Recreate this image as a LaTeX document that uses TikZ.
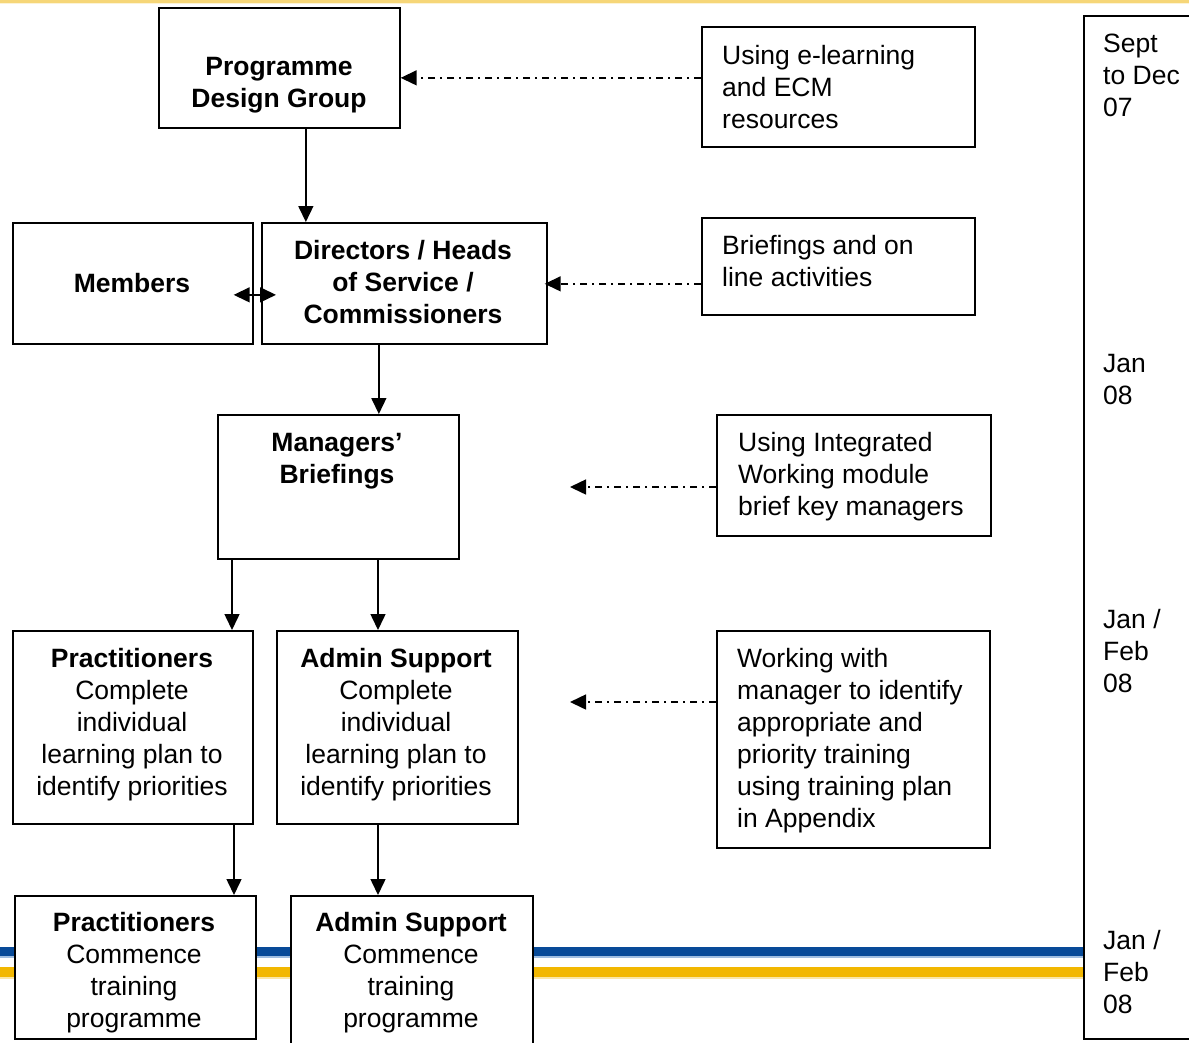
\documentclass[tikz,border=0pt]{standalone}
\usepackage{fontspec}
\setmainfont{Liberation Sans}
\usetikzlibrary{arrows.meta,calc}
\definecolor{stripeblue}{RGB}{8,74,152}
\definecolor{stripelblue}{RGB}{160,190,225}
\definecolor{stripeyellow}{RGB}{242,183,0}
\definecolor{topyellow}{RGB}{246,214,120}
\begin{document}
\begin{tikzpicture}[x=1pt,y=-1pt,
  box/.style={draw=black,line width=1.7pt,fill=white,anchor=north west,inner sep=0pt},
  txtc/.style={inner sep=0pt,align=center,anchor=base,font=\fontsize{26.5}{32}\selectfont},
  txtl/.style={inner sep=0pt,align=left,anchor=base west,font=\fontsize{26.5}{32}\selectfont},
  tip/.style={},
  arr/.style={line width=1.5pt,-{Triangle[length=16pt,width=15pt]}},
  darr/.style={line width=1.5pt,{Triangle[length=16pt,width=15pt]}-{Triangle[length=16pt,width=15pt]}},
  dd/.style={line width=1.5pt,dash pattern=on 7pt off 5pt on 2pt off 5pt,-{Triangle[length=16pt,width=15pt]}}]
\useasboundingbox (0,0) rectangle (1189,1042);
% background decorations
\fill[topyellow] (0,0) rectangle (1189,2.5);
\fill[topyellow!30] (0,2.5) rectangle (1189,4);
\fill[stripeblue] (0,947) rectangle (1083,956);
\fill[stripelblue] (0,956) rectangle (1083,958);
\fill[stripeyellow] (0,967) rectangle (1083,977);
\fill[stripeyellow!35] (0,977) rectangle (1083,979);
% boxes
\node[box,minimum width=241pt,minimum height=120pt] (pdg) at (158,7) {};
\node[box,minimum width=273pt,minimum height=120pt] (elearn) at (701,26) {};
\node[box,minimum width=240pt,minimum height=121pt] (members) at (12,222) {};
\node[box,minimum width=285pt,minimum height=121pt] (dir) at (261,222) {};
\node[box,minimum width=273pt,minimum height=97pt] (brief) at (701,217) {};
\node[box,minimum width=241pt,minimum height=144pt] (mgr) at (217,414) {};
\node[box,minimum width=274pt,minimum height=121pt] (integ) at (716,414) {};
\node[box,minimum width=240pt,minimum height=193pt] (prac) at (12,630) {};
\node[box,minimum width=241pt,minimum height=193pt] (admin) at (276,630) {};
\node[box,minimum width=273pt,minimum height=217pt] (work) at (716,630) {};
\node[box,minimum width=241pt,minimum height=143pt] (prac2) at (14,895) {};
\node[box,minimum width=242pt,minimum height=170pt] (admin2) at (290,895) {};
\node[box,minimum width=140pt,minimum height=1023pt] (time) at (1083,15) {};
% texts (anchor = baseline of last line)
\node[txtc] (pdgt) at (279,107) {\textbf{Programme}\\\textbf{Design Group}};
\node[txtl] (elearnt) at (722,128) {Using e-learning\\and ECM\\resources};
\node[txtc] (memberst) at (132,292) {\textbf{Members}};
\node[txtc] (dirt) at (403,323) {\textbf{Directors / Heads}\\\textbf{of Service /}\\\textbf{Commissioners}};
\node[txtl] (brieft) at (722,286) {Briefings and on\\line activities};
\node[txtc] (mgrt) at (337,483) {\textbf{Managers’}\\\textbf{Briefings}};
\node[txtl] (integt) at (738,515) {Using Integrated\\Working module\\brief key managers};
\node[txtc] (pract) at (132,795) {\textbf{Practitioners}\\Complete\\individual\\learning plan to\\identify priorities};
\node[txtc] (admint) at (396,795) {\textbf{Admin Support}\\Complete\\individual\\learning plan to\\identify priorities};
\node[txtl] (workt) at (737,827) {Working with\\manager to identify\\appropriate and\\priority training\\using training plan\\in Appendix};
\node[txtc] (prac2t) at (134,1027) {\textbf{Practitioners}\\Commence\\training\\programme};
\node[txtc] (admin2t) at (411,1027) {\textbf{Admin Support}\\Commence\\training\\programme};
\node[txtl] (t1) at (1103,116) {Sept\\to Dec\\07};
\node[txtl] (t2) at (1103,404) {Jan\\08};
\node[txtl] (t3) at (1103,692) {Jan /\\Feb\\08};
\node[txtl] (t4) at (1103,1013) {Jan /\\Feb\\08};
% free arrow ends
\coordinate (integend) at (570,487);
\coordinate (workend) at (570,702);
% connectors
\draw[arr] ([xshift=26.5pt]pdg.south) -- ([xshift=26.5pt]pdg.south |- dir.north);
\draw[arr] ([xshift=-25.5pt]dir.south) -- ([xshift=-25.5pt]dir.south |- mgr.north);
\draw[arr] (mgr.south -| 232,0) -- (prac.north -| 232,0);
\draw[arr] (mgr.south -| 378,0) -- (admin.north -| 378,0);
\draw[arr] (prac.south -| 234,0) -- (prac2.north -| 234,0);
\draw[arr] (admin.south -| 378,0) -- (admin2.north -| 378,0);
\draw[darr] ([xshift=-20pt,yshift=-11.5pt]members.east) -- ([xshift=15pt,yshift=-11.5pt]dir.west);
\draw[dd] ([yshift=9pt]elearn.west) -- ([yshift=9pt]elearn.west -| pdg.east);
\draw[dd] ([yshift=-17.5pt]brief.west) -- ([yshift=-17.5pt,xshift=-3pt]brief.west -| dir.east);
\draw[dd] (integ.west |- integend) -- (integend);
\draw[dd] (work.west |- workend) -- (workend);
\end{tikzpicture}
\end{document}
